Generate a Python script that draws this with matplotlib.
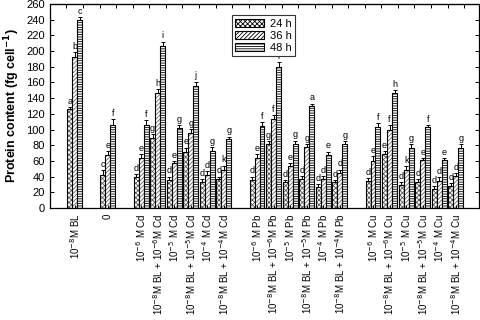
import matplotlib
matplotlib.use('Agg')
import matplotlib.pyplot as plt
from matplotlib.patches import Patch
import numpy as np

plt.rcParams['font.family'] = ['Liberation Sans', 'DejaVu Sans']
plt.rcParams['hatch.linewidth'] = 0.6

# treatment labels (x axis)
labels = [
    r'10$^{-8}$M BL', '0',
    r'10$^{-6}$ M Cd', r'10$^{-8}$M BL + 10$^{-6}$M Cd',
    r'10$^{-5}$ M Cd', r'10$^{-8}$M BL + 10$^{-5}$M Cd',
    r'10$^{-4}$ M Cd', r'10$^{-8}$M BL + 10$^{-4}$M Cd',
    r'10$^{-6}$ M Pb', r'10$^{-8}$M BL + 10$^{-6}$M Pb',
    r'10$^{-5}$ M Pb', r'10$^{-8}$M BL + 10$^{-5}$M Pb',
    r'10$^{-4}$ M Pb', r'10$^{-8}$M BL + 10$^{-4}$M Pb',
    r'10$^{-6}$ M Cu', r'10$^{-8}$M BL + 10$^{-6}$M Cu',
    r'10$^{-5}$ M Cu', r'10$^{-8}$M BL + 10$^{-5}$M Cu',
    r'10$^{-4}$ M Cu', r'10$^{-8}$M BL + 10$^{-4}$M Cu',
]
positions = [0, 2, 4, 5, 6, 7, 8, 9, 11, 12, 13, 14, 15, 16, 18, 19, 20, 21, 22, 23]

series = ['24 h', '36 h', '48 h']
v24 = [126, 42, 39, 89, 36, 72, 33, 37, 36, 81, 33, 37, 27, 33, 34, 69, 29, 33, 24, 28]
v36 = [193, 67, 64, 146, 57, 96, 42, 49, 64, 114, 53, 78, 37, 45, 60, 100, 49, 61, 35, 41]
v48 = [240, 106, 106, 206, 102, 155, 73, 88, 104, 180, 82, 130, 68, 81, 103, 147, 77, 103, 61, 76]
e24 = [3, 6, 4, 5, 4, 5, 4, 3, 4, 4, 3, 4, 3, 3, 4, 4, 4, 4, 4, 4]
e36 = [6, 6, 5, 6, 3, 5, 5, 5, 5, 4, 4, 3, 4, 4, 6, 6, 4, 3, 4, 4]
e48 = [3, 7, 6, 6, 4, 6, 5, 3, 6, 6, 4, 3, 4, 4, 5, 3, 4, 3, 3, 5]
l24 = ['a', 'c', 'd', 'g', 'd', 'e', 'd', 'd', 'd', 'g', 'd', 'd', 'd', 'd', 'd', 'e', 'd', 'd', 'd', 'd']
l36 = ['b', 'e', 'e', 'h', 'e', 'g', 'd', 'k', 'e', 'f', 'e', 'g', 'd', 'd', 'e', 'f', 'k', 'e', 'd', 'd']
l48 = ['c', 'f', 'f', 'i', 'g', 'j', 'g', 'g', 'f', 'i', 'g', 'a', 'e', 'g', 'f', 'h', 'g', 'f', 'e', 'g']

hatches = ['xxxxxxx', '////////', '-------']
hatch_cols = ['#5a5a5a', '#6a6a6a', 'black']

fig = plt.figure(figsize=(4.8, 3.2), dpi=100)
ax = fig.add_axes([0.104, 0.35, 0.894, 0.6375])

x = np.array(positions, dtype=float)
w = 0.3
data = [(v24, e24, l24), (v36, e36, l36), (v48, e48, l48)]
for i, (vals, errs, lets) in enumerate(data):
    xs = x + (i - 1) * w
    # hatch first, then black outline on top
    ax.bar(xs, vals, w, color='white', edgecolor=hatch_cols[i], hatch=hatches[i], linewidth=0)
    ax.bar(xs, vals, w, fill=False, edgecolor='black', linewidth=0.8)
    ax.errorbar(xs, vals, yerr=[np.zeros(len(vals)), errs], fmt='none',
                ecolor='black', elinewidth=0.7, capsize=1.6, capthick=0.7)
    for xx, v, e, t in zip(xs, vals, errs, lets):
        ax.text(xx, v + e + 1.5, t, ha='center', va='bottom', fontsize=6.5)

ax.set_xlim(-1.5, 24.4)
ax.set_ylim(0, 260)
ax.set_yticks(np.arange(0, 261, 20))
ax.tick_params(axis='y', labelsize=8, direction='in', right=True, length=3, width=0.7)
ax.set_xticks(positions)
ax.set_xticklabels(labels, rotation=90, fontsize=7, va='top')
ax.tick_params(axis='x', direction='in', length=2, width=0.7, pad=4)

top = ax.secondary_xaxis('top')
top.set_xticks(np.arange(-0.5, 24, 1))
top.set_xticklabels([])
top.tick_params(direction='in', length=3, width=0.7)

for s in ax.spines.values():
    s.set_linewidth(0.9)

ax.set_ylabel(r'Protein content (fg cell$^{\mathbf{-1}}$)', fontsize=9, fontweight='bold', labelpad=3)

handles = [Patch(facecolor='white', edgecolor='black', hatch=hatches[i], linewidth=0.8) for i in range(3)]
leg = ax.legend(handles, series, loc='upper left', bbox_to_anchor=(0.424, 0.945),
                fontsize=8, fancybox=False, edgecolor='#333333', framealpha=1,
                handlelength=2.6, handleheight=0.75, borderpad=0.3, labelspacing=0.2,
                handletextpad=0.5, borderaxespad=0.0)
leg.get_frame().set_linewidth(0.8)

fig.savefig('out.png', dpi=100)
